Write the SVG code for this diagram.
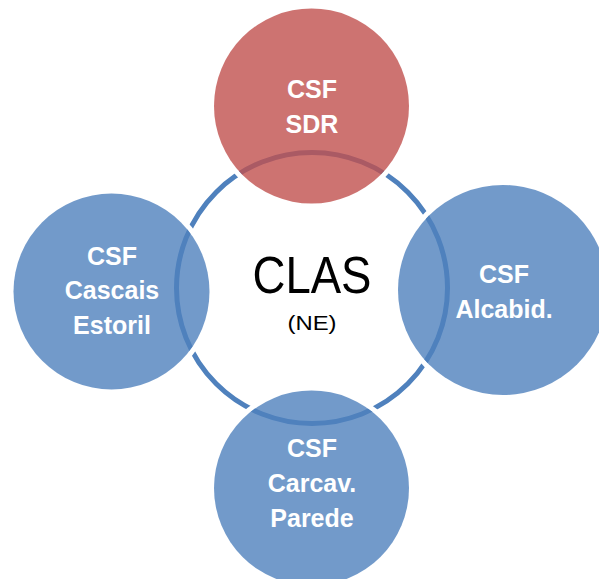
<svg xmlns="http://www.w3.org/2000/svg" width="599" height="579" viewBox="0 0 599 579">
<style>
.halo{fill:none;stroke:#ffffff;stroke-width:5}
.red{fill:#C0504D;fill-opacity:0.8}
.blue{fill:#4F81BD;fill-opacity:0.8}
.lbl{font-family:"Liberation Sans",Arial,sans-serif;font-weight:bold;font-size:25px;fill:#ffffff;text-anchor:middle}
.ctr{font-family:"Liberation Sans",Arial,sans-serif;fill:#000000;text-anchor:middle}
</style>
<rect width="599" height="579" fill="#ffffff"/>
<g id="connectors">
<circle cx="312" cy="288" r="135.5" fill="none" stroke="#4F81BD" stroke-width="5"/>
</g>
<g id="center">
<text class="ctr" x="312" y="293" font-size="52" textLength="119" lengthAdjust="spacingAndGlyphs">CLAS</text>
<text class="ctr" x="312" y="330" font-size="21" textLength="49" lengthAdjust="spacingAndGlyphs">(NE)</text>
</g>
<g id="sdr">
<circle class="halo" cx="311.5" cy="106" r="100"/>
<circle class="red" cx="311.5" cy="106" r="97.5"/>
<text class="lbl" x="312" y="98">CSF</text>
<text class="lbl" x="312" y="133">SDR</text>
</g>
<g id="cascais">
<circle class="halo" cx="111.5" cy="291.5" r="100.5"/>
<circle class="blue" cx="111.5" cy="291.5" r="98"/>
<text class="lbl" x="112" y="265">CSF</text>
<text class="lbl" x="112" y="299">Cascais</text>
<text class="lbl" x="112" y="334">Estoril</text>
</g>
<g id="alcabid">
<circle class="halo" cx="503" cy="290" r="107.5"/>
<circle class="blue" cx="503" cy="290" r="105"/>
<text class="lbl" x="504" y="283">CSF</text>
<text class="lbl" x="504" y="318">Alcabid.</text>
</g>
<g id="carcav">
<circle class="halo" cx="311.5" cy="488" r="100"/>
<circle class="blue" cx="311.5" cy="488" r="97.5"/>
<text class="lbl" x="312" y="457">CSF</text>
<text class="lbl" x="312" y="492">Carcav.</text>
<text class="lbl" x="312" y="527">Parede</text>
</g>
</svg>
